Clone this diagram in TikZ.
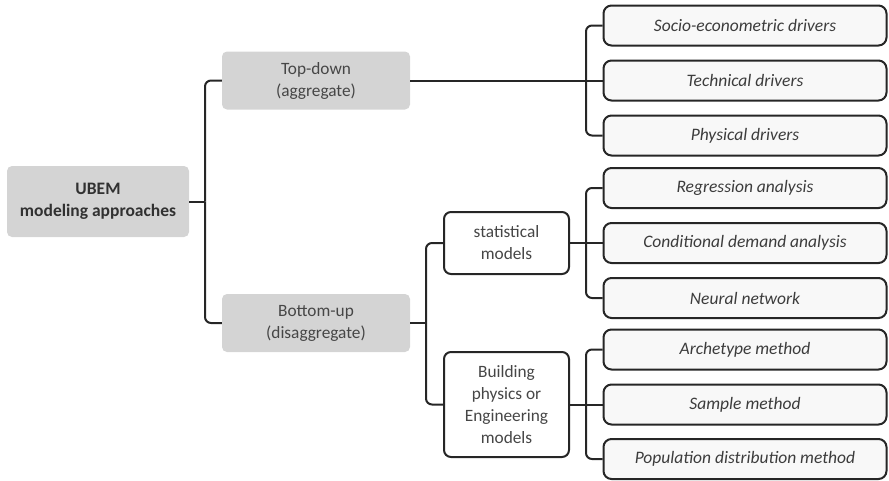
\documentclass[tikz,border=0pt]{standalone}
\usepackage{fontspec}
\setmainfont{Carlito}
\definecolor{boxgray}{RGB}{212,212,212}
\definecolor{leaffill}{RGB}{248,248,248}
\definecolor{linecol}{RGB}{38,38,38}
\definecolor{txtgray}{RGB}{70,70,70}
\begin{document}
\begin{tikzpicture}[x=1pt,y=-1pt,
  basefont/.style={font=\fontsize{17.3}{22}\selectfont},
  graybox/.style={basefont, fill=boxgray, rounded corners=5pt, text=txtgray, align=center, inner sep=0pt},
  midbox/.style={basefont, draw=linecol, line width=2pt, fill=white, rounded corners=7pt, text=txtgray, align=center, inner sep=0pt, minimum width=125pt},
  leaf/.style={font=\fontsize{17.5}{22}\selectfont\itshape, draw=linecol, line width=2pt, fill=leaffill, rounded corners=8pt, text=linecol!90, inner sep=0pt, minimum width=283pt, minimum height=40pt},
  conn/.style={draw=linecol, line width=2pt, rounded corners=6pt}]
\useasboundingbox (0,0) rectangle (889,480);
% main nodes
\node[graybox, minimum width=182pt, minimum height=71pt, font=\fontsize{17.5}{22}\selectfont\bfseries, text=linecol!95] (ubem) at (98,201.5) {UBEM\\modeling approaches};
\node[graybox, minimum width=188pt, minimum height=58pt] (td) at (316,80.5) {Top-down\\(aggregate)};
\node[graybox, minimum width=188pt, minimum height=58pt] (bu) at (316,323) {Bottom-up\\(disaggregate)};
\node[midbox, minimum height=62pt] (st) at (506.5,243) {statistical\\models};
\node[midbox, minimum height=105pt] (bp) at (506.5,404.5) {Building\\physics or\\Engineering\\models};
% leaves
\node[leaf] (l1) at (745,25.5) {Socio-econometric drivers};
\node[leaf] (l2) at (745,80.5) {Technical drivers};
\node[leaf] (l3) at (745,135.5) {Physical drivers};
\node[leaf] (l4) at (745,188) {Regression analysis};
\node[leaf] (l5) at (745,243) {Conditional demand analysis};
\node[leaf] (l6) at (745,298) {Neural network};
\node[leaf] (l7) at (745,349.5) {Archetype method};
\node[leaf] (l8) at (745,404.5) {Sample method};
\node[leaf] (l9) at (745,459) {Population distribution method};
% junctions
\coordinate (j0) at (205,201.5);
\coordinate (j1) at (586,80.5);
\coordinate (j2) at (426,323);
\coordinate (j3) at (586,243);
\coordinate (j4) at (586,404.5);
% connectors
\draw[conn] (ubem.east) -- (j0);
\draw[conn] (j0) |- (td.west);
\draw[conn] (j0) |- (bu.west);
\draw[conn] (td.east) -- (l2.west);
\draw[conn] (j1) |- (l1.west);
\draw[conn] (j1) |- (l3.west);
\draw[conn] (bu.east) -- (j2);
\draw[conn] (j2) |- (st.west);
\draw[conn] (j2) |- (bp.west);
\draw[conn] (st.east) -- (l5.west);
\draw[conn] (j3) |- (l4.west);
\draw[conn] (j3) |- (l6.west);
\draw[conn] (bp.east) -- (l8.west);
\draw[conn] (j4) |- (l7.west);
\draw[conn] (j4) |- (l9.west);
\end{tikzpicture}
\end{document}
